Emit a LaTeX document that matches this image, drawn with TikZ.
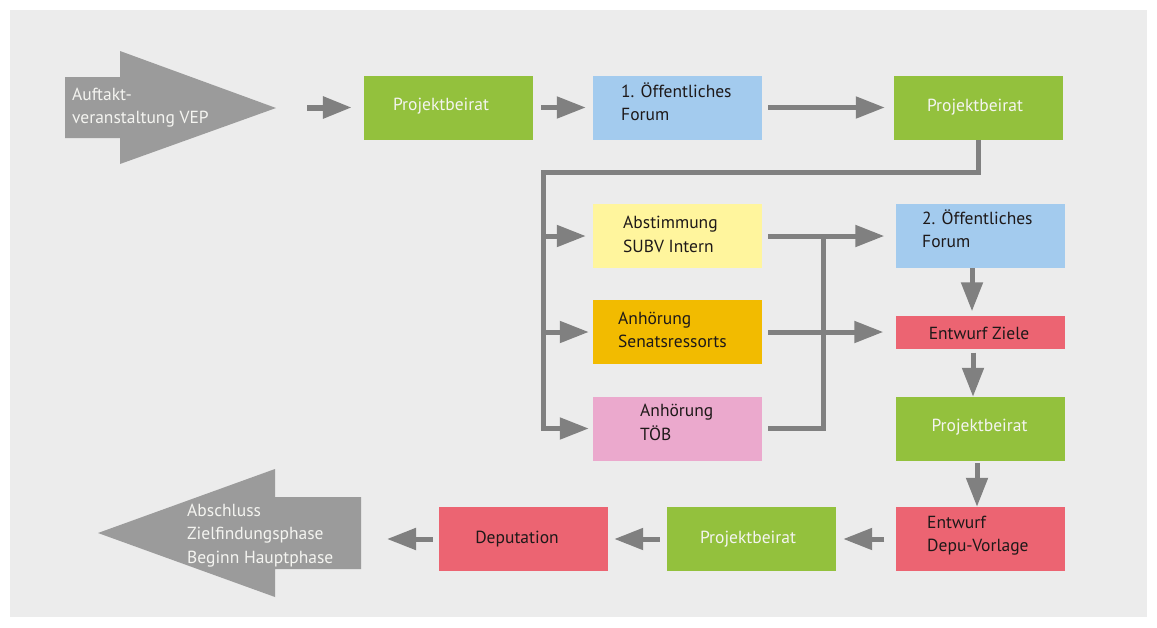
\documentclass[tikz,border=0pt]{standalone}
\usepackage{fontspec}
\setmainfont{PT Sans}
\usetikzlibrary{arrows.meta}
\definecolor{panel}{RGB}{236,236,236}
\definecolor{biggray}{RGB}{155,155,155}
\definecolor{arrowgray}{RGB}{128,128,128}
\definecolor{cgreen}{RGB}{147,193,61}
\definecolor{cblue}{RGB}{163,203,238}
\definecolor{cyellow}{RGB}{255,245,157}
\definecolor{corange}{RGB}{242,187,0}
\definecolor{cpink}{RGB}{235,169,205}
\definecolor{cred}{RGB}{236,100,114}
\definecolor{darktext}{RGB}{30,25,25}
\definecolor{lighttext}{RGB}{244,244,240}
\begin{document}
\begin{tikzpicture}[x=1pt,y=-1pt,
  box/.style={rectangle, minimum width=169pt, minimum height=64pt, inner sep=0pt},
  txt/.style={inner sep=0pt, align=left, font=\fontsize{17.5}{23.5}\selectfont, text=darktext},
  ltxt/.style={txt, text=lighttext},
  conn/.style={draw=arrowgray, line width=5pt, line join=miter, -{Triangle[length=29pt,width=21pt]}},
  plainline/.style={draw=arrowgray, line width=5pt, line join=miter}
]
\useasboundingbox (0,0) rectangle (1157,627);
\fill[white] (0,0) rectangle (1157,627);
\fill[panel] (10,10) rectangle (1147,617);

% big gray arrows
\fill[biggray] (65,77) -- (120,77) -- (120,51) -- (276,108) -- (120,164) -- (120,138) -- (65,138) -- cycle;
\fill[biggray] (361,497) -- (275,497) -- (275,469) -- (98,533) -- (275,597) -- (275,569) -- (361,569) -- cycle;
\node[ltxt, anchor=west] (auftakt) at (72,107.5) {Auftakt-\\veranstaltung VEP};
\node[ltxt, anchor=west] (abschluss) at (187,535.5) {Abschluss\\Zielfindungsphase\\Beginn Hauptphase};

% boxes
\node[box, fill=cgreen] (pb1) at (448.5,107.5) {};
\node[box, fill=cblue] (forum1) at (677.5,107.5) {};
\node[box, fill=cgreen] (pb2) at (978.5,107.5) {};
\node[box, fill=cyellow] (abst) at (677.5,236) {};
\node[box, fill=corange] (anh) at (677.5,332) {};
\node[box, fill=cpink] (toeb) at (677.5,428.5) {};
\node[box, fill=cblue] (forum2) at (980,236) {};
\node[box, fill=cred, minimum height=33pt] (ziele) at (980,332) {};
\node[box, fill=cgreen] (pb3) at (980,429) {};
\node[box, fill=cred] (depu) at (980,539) {};
\node[box, fill=cgreen] (pb4) at (751.5,539) {};
\node[box, fill=cred] (deput) at (523.5,539) {};

% box texts
\node[ltxt] (pb1t) at (441,106.5) {Projektbeirat};
\node[txt, anchor=west] (forum1t) at (621,101.5) {1. Öffentliches\\Forum};
\node[ltxt] (pb2t) at (975,107.5) {Projektbeirat};
\node[txt, anchor=west] (abstt) at (623,234.5) {Abstimmung\\SUBV Intern};
\node[txt, anchor=west] (anht) at (618,330) {Anhörung\\Senatsressorts};
\node[txt, anchor=west] (toebt) at (640,422.5) {Anhörung\\TÖB};
\node[txt, anchor=west] (forum2t) at (922,228.5) {2. Öffentliches\\Forum};
\node[txt] (zielet) at (979,333) {Entwurf Ziele};
\node[ltxt] (pb3t) at (979.5,427) {Projektbeirat};
\node[txt, anchor=west] (deput2) at (927,535.5) {Entwurf\\Depu-Vorlage};
\node[ltxt] (pb4t) at (748,539) {Projektbeirat};
\node[txt] (deputt) at (517,539) {Deputation};

% helper coordinates
\coordinate (startpt) at (307,107.5);
\coordinate (finpt) at (387,539);
\coordinate (bustop) at (543,172);
\coordinate (busbot) at (543,428.5);
\coordinate (joint) at (823,236);

% top row
\draw[conn, line width=6pt, shorten >=12pt] (startpt) -- (pb1.west);
\draw[conn, shorten <=8pt, shorten >=7pt] (pb1.east) -- (forum1.west);
\draw[conn, shorten <=6pt, shorten >=9pt] (forum1.east) -- (pb2.west);

% bus
\draw[conn, shorten >=4pt] (pb2.south) |- (bustop) -- (busbot) -- (toeb.west);
\draw[conn, shorten >=7pt] (bustop |- abst.west) -- (abst.west);
\draw[conn, shorten >=4pt] (bustop |- anh.west) -- (anh.west);

% right side of middle
\draw[conn, shorten <=6pt, shorten >=11pt] (abst.east) -- (forum2.west);
\draw[conn, shorten <=6pt, shorten >=12pt] (anh.east) -- (ziele.west);
\draw[plainline] ([xshift=6pt]toeb.east) -| (joint);

% right column
\draw[conn, shorten >=4pt] ([xshift=-8pt]forum2.south) -- ([xshift=-8pt]ziele.north);
\draw[conn, shorten <=4pt] ([xshift=-7pt]ziele.south) -- ([xshift=-7pt]pb3.north);
\draw[conn, shorten <=2pt] ([xshift=-3pt]pb3.south) -- ([xshift=-3pt]depu.north);

% bottom row
\draw[conn, shorten <=11pt, shorten >=7pt] (depu.west) -- (pb4.east);
\draw[conn, shorten <=7pt, shorten >=6pt] (pb4.west) -- (deput.east);
\draw[conn, shorten <=6pt] (deput.west) -- (finpt);
\end{tikzpicture}
\end{document}
